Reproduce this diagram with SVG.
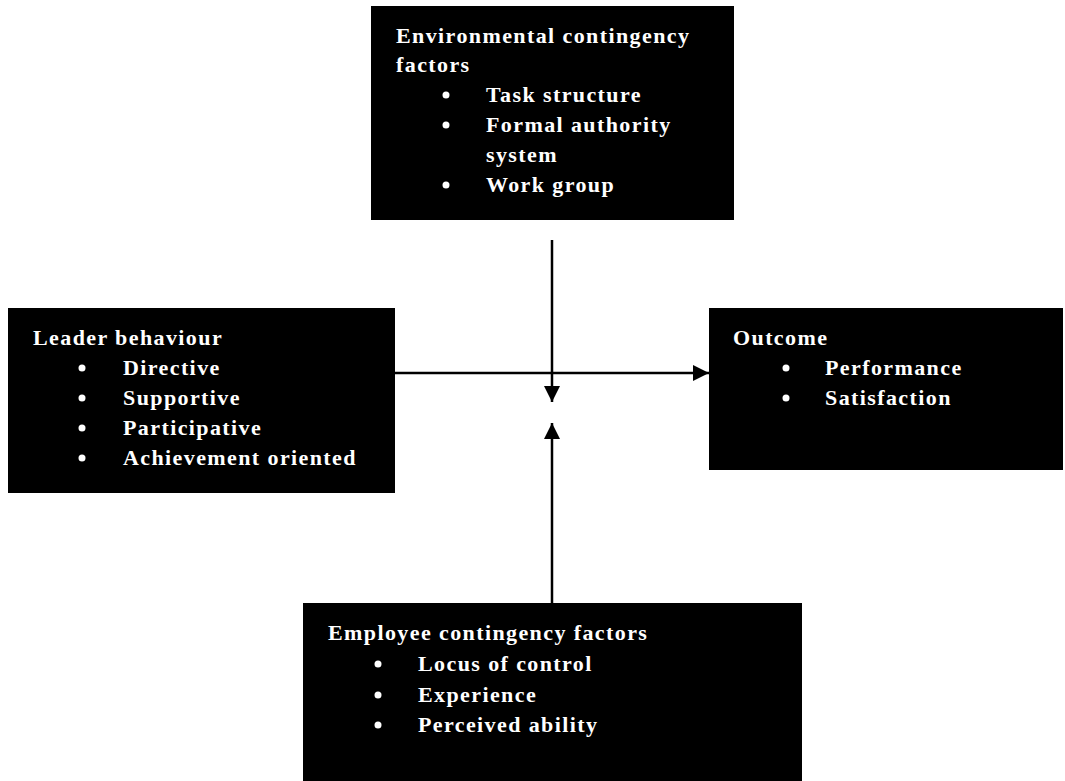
<svg xmlns="http://www.w3.org/2000/svg" width="1065" height="781" viewBox="0 0 1065 781">
<style>
.box{fill:#000}
.t{font-family:"Liberation Serif","Times New Roman",serif;font-weight:bold;font-size:22px;fill:#fff;letter-spacing:1.4px}
.b{fill:#fff}
.c{stroke:#000;stroke-width:2.5;fill:none}
</style>
<defs>
<marker id="ah" viewBox="0 0 16 16" refX="16" refY="8" markerWidth="16" markerHeight="16" markerUnits="userSpaceOnUse" orient="auto">
<path d="M0,0 L16,8 L0,16 Z" fill="#000"/>
</marker>
</defs>
<rect width="1065" height="781" fill="#fff"/>
<g id="connectors">
<line class="c" x1="395" y1="373" x2="709" y2="373" marker-end="url(#ah)"/>
<line class="c" x1="552" y1="240" x2="552" y2="402" marker-end="url(#ah)"/>
<line class="c" x1="552" y1="603" x2="552" y2="423" marker-end="url(#ah)"/>
</g>
<g id="environmental">
<rect class="box" x="371" y="6" width="363" height="214"/>
<text class="t" x="396" y="43">Environmental contingency</text>
<text class="t" x="396" y="72">factors</text>
<circle class="b" cx="446" cy="95" r="3.5"/>
<text class="t" x="486" y="102">Task structure</text>
<circle class="b" cx="446" cy="125" r="3.5"/>
<text class="t" x="486" y="132">Formal authority</text>
<text class="t" x="486" y="162">system</text>
<circle class="b" cx="446" cy="185" r="3.5"/>
<text class="t" x="486" y="192">Work group</text>
</g>
<g id="leader">
<rect class="box" x="8" y="308" width="387" height="185"/>
<text class="t" x="33" y="345">Leader behaviour</text>
<circle class="b" cx="82" cy="368" r="3.5"/>
<text class="t" x="123" y="375">Directive</text>
<circle class="b" cx="82" cy="398" r="3.5"/>
<text class="t" x="123" y="405">Supportive</text>
<circle class="b" cx="82" cy="428" r="3.5"/>
<text class="t" x="123" y="435">Participative</text>
<circle class="b" cx="82" cy="458" r="3.5"/>
<text class="t" x="123" y="465">Achievement oriented</text>
</g>
<g id="outcome">
<rect class="box" x="709" y="308" width="354" height="162"/>
<text class="t" x="733" y="345">Outcome</text>
<circle class="b" cx="786" cy="368" r="3.5"/>
<text class="t" x="825" y="375">Performance</text>
<circle class="b" cx="786" cy="398" r="3.5"/>
<text class="t" x="825" y="405">Satisfaction</text>
</g>
<g id="employee">
<rect class="box" x="303" y="603" width="499" height="178"/>
<text class="t" x="328" y="640">Employee contingency factors</text>
<circle class="b" cx="378" cy="664" r="3.5"/>
<text class="t" x="418" y="671">Locus of control</text>
<circle class="b" cx="378" cy="695" r="3.5"/>
<text class="t" x="418" y="702">Experience</text>
<circle class="b" cx="378" cy="725" r="3.5"/>
<text class="t" x="418" y="732">Perceived ability</text>
</g>
</svg>
